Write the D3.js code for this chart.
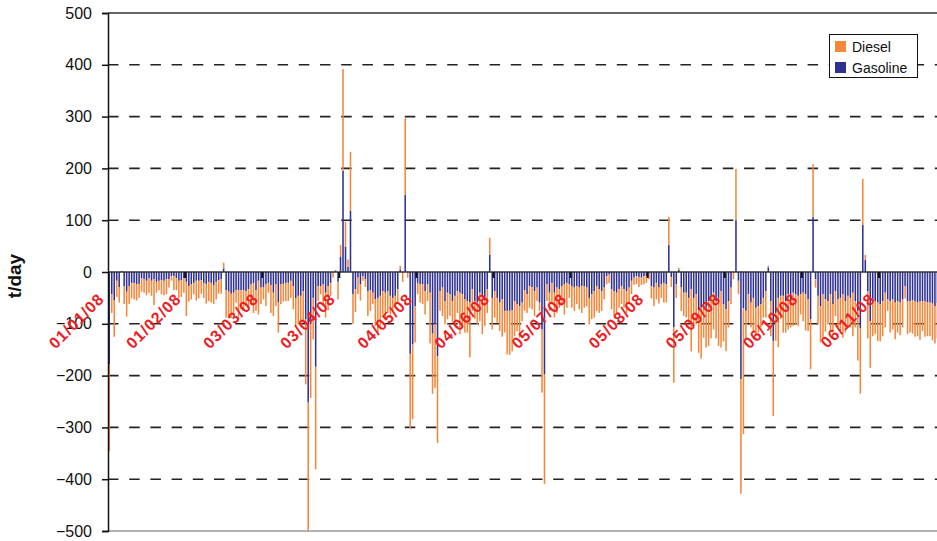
<!DOCTYPE html>
<html>
<head>
<meta charset="utf-8">
<script src="https://cdn.jsdelivr.net/npm/d3@7"></script>
<style>
  body { margin: 0; background: #fff; }
  svg { display: block; }
  text { font-family: Arial, "Liberation Sans", sans-serif; }
</style>
</head>
<body>
<svg id="chart" width="937" height="541"></svg>
<script>
// daily categories, 01/01/08 .. 30/11/08
const days = d3.timeDay.range(new Date(2008, 0, 1), new Date(2008, 11, 1));

// labelled categories on the x axis
const tickLabels = ["01/01/08", "01/02/08", "03/03/08", "03/04/08", "04/05/08", "04/06/08",
                    "05/07/08", "05/08/08", "05/09/08", "06/10/08", "06/11/08"];

// t/day, gasoline (stacked next to the axis)
const gasoline = [
  -178, -43, -55, -17, -29, 2, -27, -38, -27, -21,
  -21, -24, -23, -12, -14, -17, -12, -17, -14, -19,
  -17, -16, -17, -14, -14, -8, -8, -12, -17, -16,
  -12, -19, -27, -24, -21, -17, -17, -16, -21, -23,
  -19, -21, -25, -19, -16, -14, 7, -35, -38, -42,
  -40, -35, -35, -35, -35, -37, -33, -24, -21, -35,
  -17, -30, -30, -24, -21, -25, -40, -24, -59, -24,
  -23, -21, -21, -17, -27, -50, -46, -46, -37, -91,
  -252, -101, -50, -183, -27, -27, -24, -40, -27, -21,
  0, 3, -19, 30, 195, 49, 10, 118, -43, -33,
  -11, -24, -8, -14, -37, -35, -40, -53, -50, -46,
  -37, -40, -37, -46, -50, -46, -33, 5, 0, 149,
  0, -158, -140, -66, -21, -24, -24, -37, -24, -40,
  -119, -100, -163, -37, -30, -56, -40, -43, -56, -46,
  -37, -40, -43, -53, -56, -59, -33, -56, -59, -40,
  -46, -53, -33, 33, -50, -37, -50, -59, -53, -75,
  -75, -75, -74, -56, -62, -66, -59, -35, -43, -27,
  -29, -37, -30, -59, -111, -198, -24, -40, -21, -40,
  -30, -33, -27, -24, -21, -24, -27, -30, -27, -30,
  -27, -27, -30, -50, -43, -37, -27, -33, -37, -30,
  -8, -5, -33, -37, -40, -33, -27, -33, -37, -30,
  -17, -11, -8, -10, -11, -8, -8, -3, -27, -30,
  -21, -30, -24, -21, -24, 52, -10, -107, -24, 4,
  -30, -40, -40, -50, -33, -50, -43, -74, -69, -62,
  -69, -56, -46, -40, -56, -50, -37, -62, -72, -56,
  -30, 0, 100, -17, -207, -70, -75, -43, -59, -50,
  -69, -66, -62, -50, -37, 9, -56, -133, -79, -50,
  -46, -46, -56, -43, -53, -40, -43, -46, -43, -40,
  -43, -53, -91, 106, -14, -46, -66, -43, -53, -56,
  -43, -62, -37, -53, -50, -43, -56, -46, -50, -40,
  -56, -75, -108, 91, 23, -37, -95, -56, -56, -59,
  -62, -56, -40, -53, -56, -53, -59, -56, -59, -53,
  -27, -56, -56, -55, -57, -59, -57, -56, -57, -59,
  -59, -61, -66, -60, -58
];

// t/day, diesel (stacked beyond gasoline)
const diesel = [
  -168, -36, -70, -31, -30, 0, -35, -48, -35, -30,
  -32, -31, -27, -26, -26, -28, -28, -29, -50, -21,
  -18, -27, -28, -29, -16, -9, -27, -23, -33, -32,
  -28, -66, -30, -29, -22, -38, -34, -26, -29, -38,
  -37, -38, -37, -34, -26, -28, 11, -53, -51, -47,
  -39, -24, -50, -37, -40, -29, -39, -35, -58, -40,
  -65, -32, -23, -42, -19, -54, -45, -42, -58, -38,
  -34, -35, -35, -33, -45, -54, -55, -55, -61, -126,
  -247, -142, -80, -198, -29, -16, -38, -48, -47, -25,
  -11, 0, -34, 22, 197, 48, 14, 114, -57, -44,
  -32, -31, -9, -15, -48, -40, -22, -51, -67, -58,
  -45, -48, -42, -36, -25, -23, -29, 7, -19, 148,
  -11, -144, -144, -70, -22, -35, -38, -45, -32, -98,
  -116, -124, -167, -38, -55, -45, -51, -42, -42, -55,
  -42, -80, -64, -64, -61, -106, -42, -35, -42, -55,
  -74, -51, -46, 33, -61, -51, -48, -55, -72, -42,
  -84, -85, -79, -68, -52, -61, -36, -40, -36, -42,
  -43, -48, -26, -16, -122, -211, -32, -35, -41, -48,
  -49, -36, -35, -58, -48, -26, -42, -45, -35, -42,
  -52, -42, -36, -51, -48, -51, -48, -46, -38, -23,
  -16, -16, -39, -48, -42, -36, -35, -36, -42, -32,
  -26, -14, -15, -19, -14, -16, -13, -11, -24, -36,
  -32, -31, -26, -38, -35, 54, -19, -107, -26, 4,
  -45, -45, -48, -48, -120, -54, -58, -82, -98, -65,
  -77, -87, -82, -71, -72, -93, -109, -72, -81, -51,
  -32, -14, 99, -26, -221, -243, -52, -55, -48, -64,
  -55, -51, -45, -38, -51, 3, -68, -145, -54, -95,
  -45, -71, -61, -68, -54, -64, -58, -58, -39, -55,
  -70, -61, -97, 102, -16, -55, -70, -84, -62, -45,
  -71, -55, -48, -54, -64, -84, -61, -61, -57, -84,
  -51, -96, -127, 89, 10, -91, -90, -68, -64, -74,
  -72, -68, -67, -22, -61, -58, -71, -61, -63, -54,
  -24, -64, -61, -64, -68, -65, -74, -58, -68, -65,
  -65, -71, -72, -68, -66
];

const colors = { diesel: "#f5873a", gasoline: "#2e3192" };

const plotLeft = 108, plotRight = 937, plotTop = 13, plotBottom = 531;
const step = 2.487;

const svg = d3.select("#chart");
const fmt = d3.timeFormat("%d/%m/%y");

const x = d3.scaleBand()
    .domain(days)
    .range([plotLeft, plotLeft + days.length * step])
    .paddingInner(0.38)
    .paddingOuter(0.19);

const y = d3.scaleLinear().domain([-500, 500]).range([plotBottom, plotTop]);

// dashed gridlines
const grid = svg.append("g");
grid.selectAll("line")
    .data(y.ticks(10).filter(v => v !== 0 && Math.abs(v) !== 500))
    .join("line")
    .attr("x1", plotLeft).attr("x2", plotRight)
    .attr("y1", d => y(d)).attr("y2", d => y(d))
    .attr("stroke", "#222")
    .attr("stroke-width", 1.6)
    .attr("stroke-dasharray", "10.5,10.7");

// stacked bars
const rows = days.map((d, i) => ({ date: d, gasoline: gasoline[i], diesel: diesel[i] }));
const series = d3.stack()
    .keys(["gasoline", "diesel"])
    .offset(d3.stackOffsetDiverging)(rows);

svg.append("g")
  .selectAll("g")
  .data(series)
  .join("g")
    .attr("fill", s => colors[s.key])
  .selectAll("rect")
  .data(s => s)
  .join("rect")
    .attr("x", d => x(d.data.date))
    .attr("width", x.bandwidth())
    .attr("y", d => y(Math.max(d[0], d[1])))
    .attr("height", d => Math.abs(y(d[0]) - y(d[1])));

// frame lines
svg.append("line").attr("x1", plotLeft).attr("x2", plotRight).attr("y1", plotTop).attr("y2", plotTop)
    .attr("stroke", "#333").attr("stroke-width", 1.5);
svg.append("line").attr("x1", plotLeft).attr("x2", plotRight).attr("y1", plotBottom).attr("y2", plotBottom)
    .attr("stroke", "#999").attr("stroke-width", 1.5);
svg.append("line").attr("x1", plotLeft).attr("x2", plotRight).attr("y1", y(0)).attr("y2", y(0))
    .attr("stroke", "#333").attr("stroke-width", 1.5);

// y axis
const yAxis = svg.append("g")
    .attr("transform", `translate(${plotLeft},0)`)
    .call(d3.axisLeft(y).ticks(10).tickSize(6).tickPadding(10).tickFormat(d3.format("d")));
yAxis.select(".domain").attr("stroke", "#111").attr("stroke-width", 1.5);
yAxis.selectAll(".tick line").attr("stroke", "#111").attr("stroke-width", 1.5);
yAxis.selectAll(".tick text")
    .attr("font-size", 16)
    .attr("font-family", "Arial, 'Liberation Sans', sans-serif")
    .attr("fill", "#111");

// x ticks and labels
const labelled = days.filter(d => tickLabels.includes(fmt(d)));
const slotLeft = d => x(d) - x.step() * x.paddingOuter();

svg.append("g").selectAll("line")
    .data(labelled.slice(1))
    .join("line")
    .attr("x1", slotLeft).attr("x2", slotLeft)
    .attr("y1", y(0)).attr("y2", y(0) + 6)
    .attr("stroke", "#111").attr("stroke-width", 2);

svg.append("g").selectAll("text")
    .data(labelled)
    .join("text")
    .attr("transform", d => `translate(${x(d) + x.bandwidth() / 2 - 4},${y(0) + 28}) rotate(-45)`)
    .attr("text-anchor", "end")
    .attr("font-size", 16)
    .attr("font-weight", "bold")
    .attr("letter-spacing", 1)
    .attr("fill", "#ed1c24")
    .text(d => fmt(d));

// y title
svg.append("text")
    .attr("transform", `translate(21,${y(0) + 4}) rotate(-90)`)
    .attr("text-anchor", "middle")
    .attr("font-size", 19)
    .attr("font-weight", "bold")
    .attr("fill", "#111")
    .text("t/day");

// legend
const legend = svg.append("g");
legend.append("rect")
    .attr("x", 829.5).attr("y", 34.5).attr("width", 88).attr("height", 43)
    .attr("fill", "#fff").attr("stroke", "#111").attr("stroke-width", 1);
const items = [
  { key: "diesel", name: "Diesel" },
  { key: "gasoline", name: "Gasoline" }
];
items.forEach((it, i) => {
    legend.append("rect")
        .attr("x", 835).attr("y", 41 + i * 21).attr("width", 11).attr("height", 11)
        .attr("fill", colors[it.key]);
    legend.append("text")
        .attr("x", 852).attr("y", 52 + i * 21)
        .attr("font-size", 14)
        .attr("fill", "#111")
        .text(it.name);
});
</script>
</body>
</html>
